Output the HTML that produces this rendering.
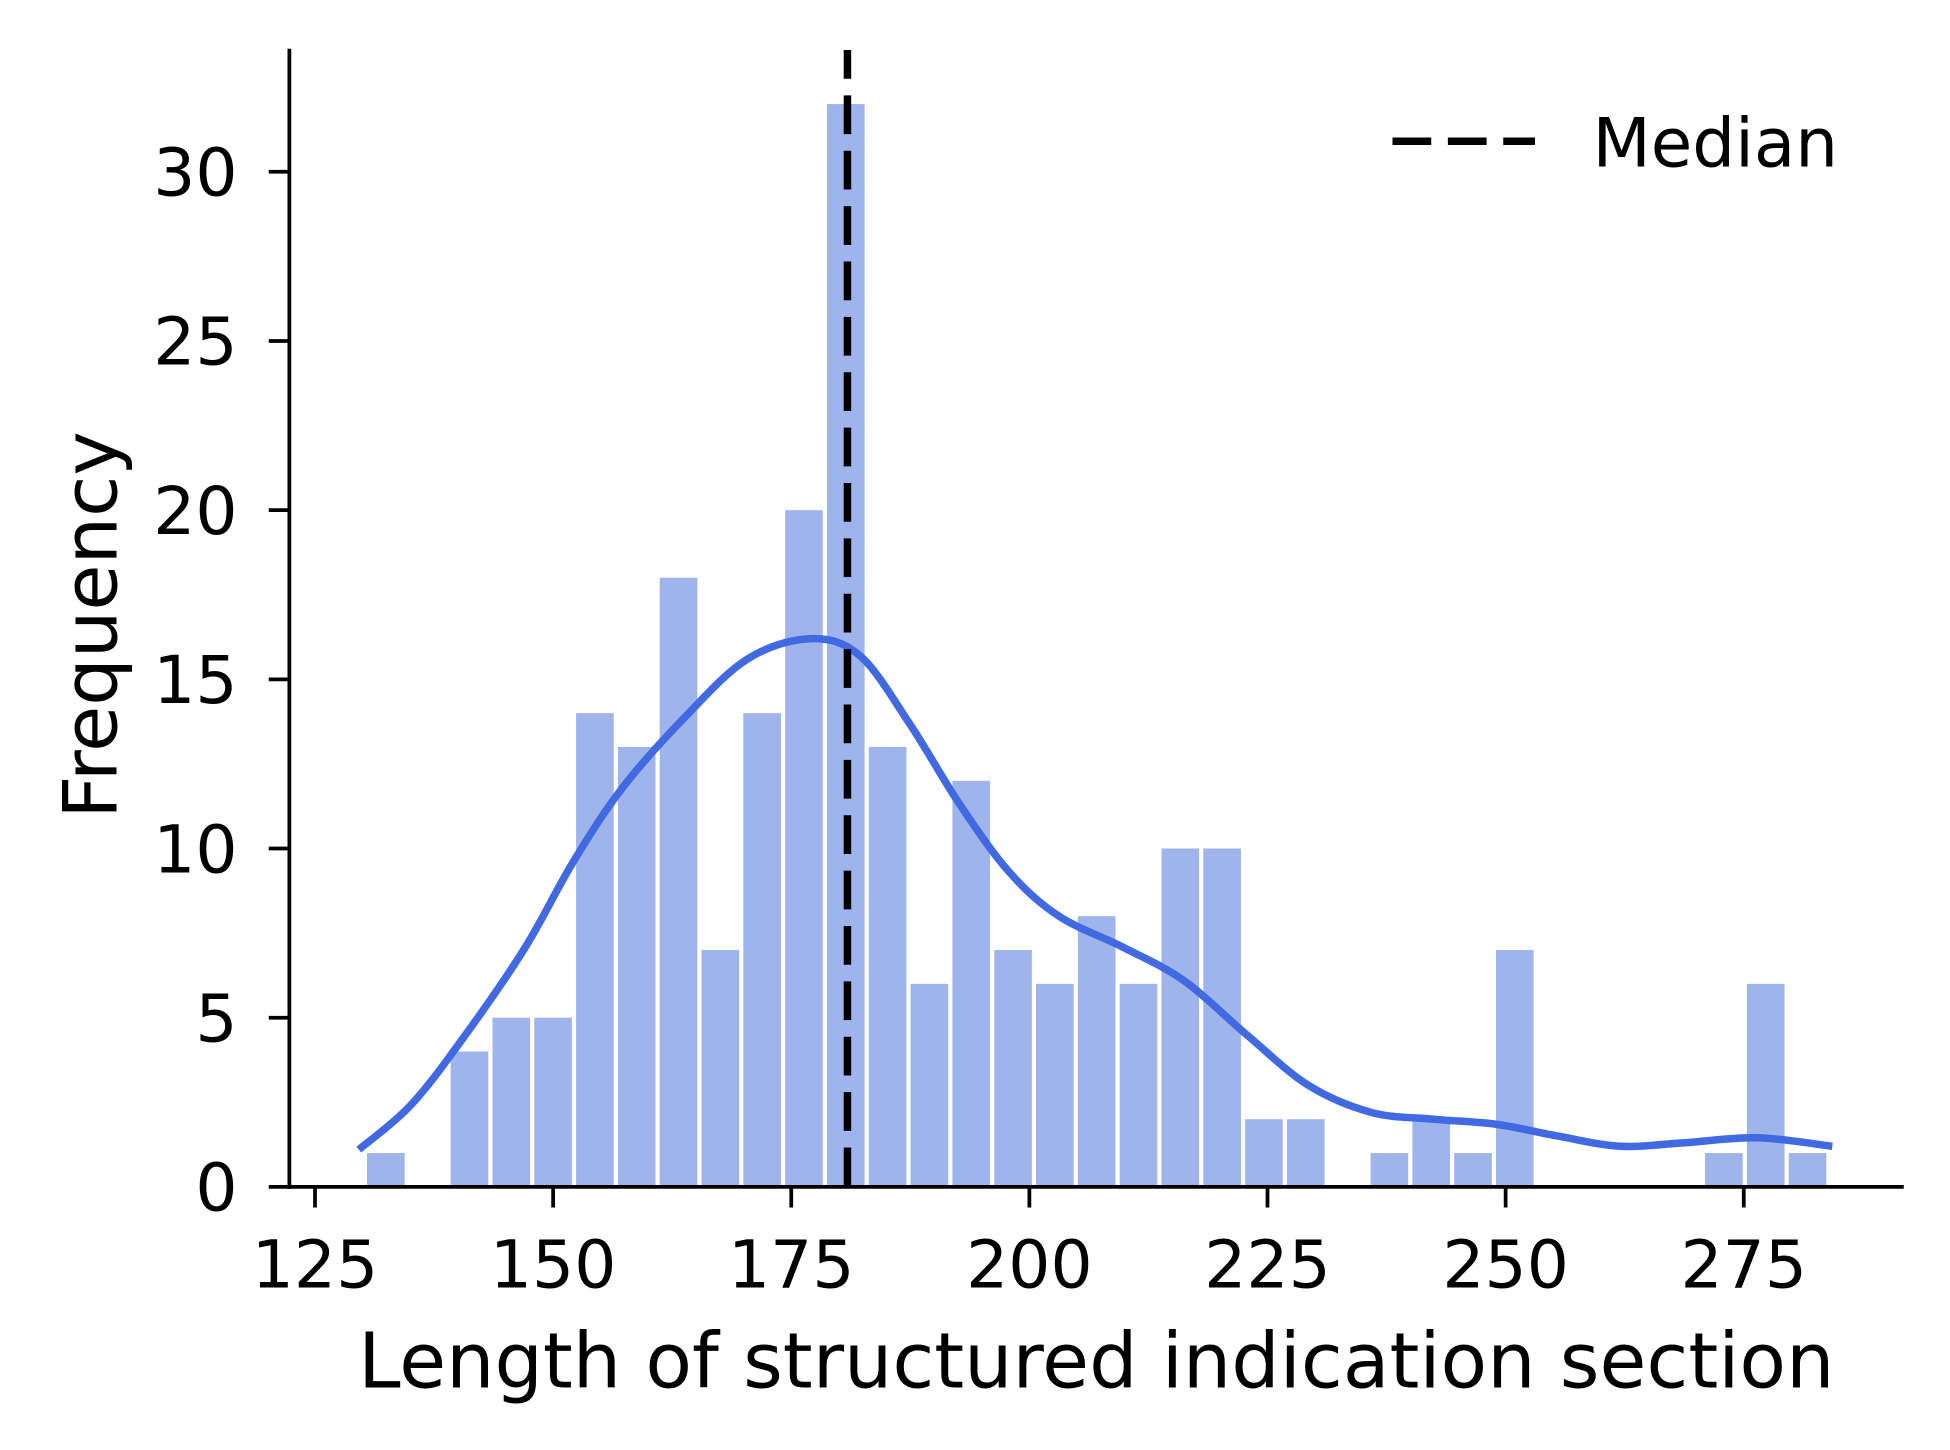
<!DOCTYPE html>
<html><head><meta charset="utf-8"><style>
html,body{margin:0;padding:0;background:#fff;}
svg{display:block;}
text{font-family:"DejaVu Sans","Liberation Sans",sans-serif;fill:#000;}
</style></head><body>
<svg id="chart" width="1950" height="1450" viewBox="0 0 1560 1160" xmlns="http://www.w3.org/2000/svg">
<g id="bars"></g>
<path id="kde" fill="none" stroke="#4169e1" stroke-width="6" stroke-linecap="butt"/>
<line id="median" stroke="#000" stroke-width="6" stroke-dasharray="31 13.3" stroke-dashoffset="8"/>
<g id="axes"></g>
<g>
<line x1="1114" y1="113" x2="1228" y2="113" stroke="#000" stroke-width="6" stroke-dasharray="31 13.3"/>
<text x="1274" y="133" font-size="54">Median</text>
</g>
<text x="877" y="1110" font-size="61" text-anchor="middle">Length of structured indication section</text>
<text transform="translate(93,500) rotate(-90)" font-size="60" text-anchor="middle">Frequency</text>
</svg>
<script>
const binStart = 130.24;
const binWidth = 4.39;
const counts = [1,0,4,5,5,14,13,18,7,14,20,32,13,6,12,7,6,8,6,10,10,2,2,0,1,2,1,7,0,0,0,0,1,6,1];
const kdeX = [129.6,135,140.3,146.9,152.1,157.3,163.9,170.4,177,182.2,187.4,192.7,197.9,203.1,209.7,216.2,222.8,229.3,235.9,242.4,249,255.5,262,268.6,276.4,284.3];
const kdeY = [1.1,2.4,4.3,7.0,9.6,11.8,13.9,15.6,16.2,15.7,13.7,11.3,9.3,8.0,7.1,6.1,4.5,3.0,2.2,2.0,1.85,1.5,1.2,1.3,1.45,1.2];
const medianValue = 180.9;
const xTicks = [125,150,175,200,225,250,275];
const yTicks = [0,5,10,15,20,25,30];

const NS = "http://www.w3.org/2000/svg";
const xs = v => 252 + (v - 125) * 7.62;
const ys = v => 949.5 - v * 27.07;
function mk(tag, attrs, parent){const e=document.createElementNS(NS,tag);for(const k in attrs)e.setAttribute(k,attrs[k]);parent.appendChild(e);return e;}

const bars = document.getElementById('bars');
counts.forEach((c,i)=>{
  if(c<=0) return;
  const x0 = xs(binStart + i*binWidth), x1 = xs(binStart + (i+1)*binWidth);
  const w = x1 - x0;
  const r = mk('rect',{x:x0+w*0.05,y:ys(c),width:w*0.9,height:ys(0)-ys(c),fill:'#a0b4ec'},bars);
  
  
});

const pts = kdeX.map((v,i)=>[xs(v),ys(kdeY[i])]);
let d = 'M'+pts[0][0]+','+pts[0][1];
for(let i=0;i<pts.length-1;i++){
  const p0=pts[Math.max(0,i-1)],p1=pts[i],p2=pts[i+1],p3=pts[Math.min(pts.length-1,i+2)];
  const c1=[p1[0]+(p2[0]-p0[0])/6,p1[1]+(p2[1]-p0[1])/6];
  const c2=[p2[0]-(p3[0]-p1[0])/6,p2[1]-(p3[1]-p1[1])/6];
  d+=' C'+c1[0]+','+c1[1]+' '+c2[0]+','+c2[1]+' '+p2[0]+','+p2[1];
}
document.getElementById('kde').setAttribute('d',d);

const med = document.getElementById('median');
med.setAttribute('x1',xs(medianValue));med.setAttribute('x2',xs(medianValue));
med.setAttribute('y1',40);med.setAttribute('y2',949);

const axes = document.getElementById('axes');
const ya = mk('line',{x1:231.5,y1:39,x2:231.5,y2:951,stroke:'#000','stroke-width':3},axes);


const xa = mk('line',{x1:230,y1:949.5,x2:1523,y2:949.5,stroke:'#000','stroke-width':3},axes);


xTicks.forEach(t=>{
  const l = mk('line',{x1:xs(t),y1:949,x2:xs(t),y2:966,stroke:'#000','stroke-width':3},axes);
  
  
  const tx = mk('text',{x:xs(t),y:1030,'font-size':53,'text-anchor':'middle'},axes);
  tx.textContent = t;
  
  
});
yTicks.forEach(t=>{
  const l = mk('line',{x1:215,y1:ys(t),x2:232,y2:ys(t),stroke:'#000','stroke-width':3},axes);
  
  
  const tx = mk('text',{x:190,y:ys(t)+19,'font-size':53,'text-anchor':'end'},axes);
  tx.textContent = t;
  
  
});
</script>
</body></html>
